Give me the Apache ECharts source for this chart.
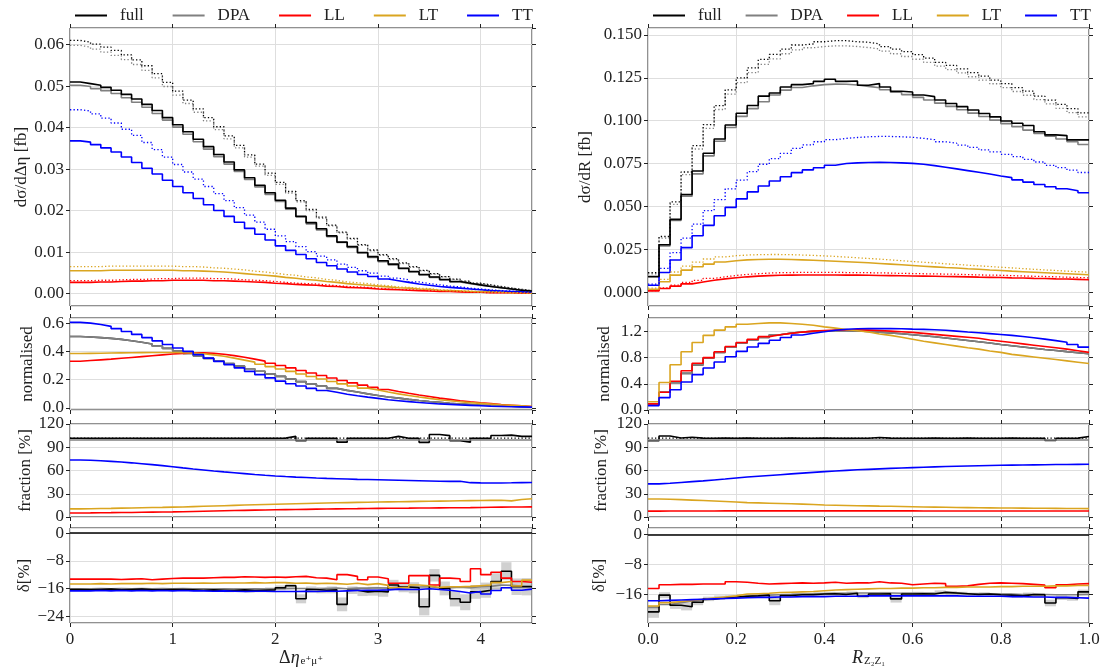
<!DOCTYPE html>
<html>
<head>
<meta charset="utf-8">
<script src="https://cdn.jsdelivr.net/npm/echarts@6/dist/echarts.min.js"></script>
<style>html,body{margin:0;background:#fff}#main{width:1107px;height:668px}</style>
</head>
<body>
<div id="main"></div>
<script>
// bin edges
var etaEdges = [0,0.1,0.2,0.3,0.4,0.5,0.6,0.7,0.8,0.9,1,1.1,1.2,1.3,1.4,1.5,1.6,1.7,1.8,1.9,2,2.1,2.2,2.3,2.4,2.5,2.6,2.7,2.8,2.9,3,3.1,3.2,3.3,3.4,3.5,3.6,3.7,3.8,3.9,4,4.1,4.2,4.3,4.4,4.5];
var rEdges = [0,0.025,0.05,0.075,0.1,0.125,0.15,0.175,0.2,0.225,0.25,0.275,0.3,0.325,0.35,0.375,0.4,0.425,0.45,0.475,0.5,0.525,0.55,0.575,0.6,0.625,0.65,0.675,0.7,0.725,0.75,0.775,0.8,0.825,0.85,0.875,0.9,0.925,0.95,0.975,1];

// ---- left column: delta eta (solid = NLO, dot = LO)
var etaFull = [.0510,.0506,.0502,.0497,.0490,.0480,.0469,.0456,.0441,.0424,.0407,.0390,.0372,.0354,.0335,.0317,.0298,.0279,.0261,.0243,.0225,.0206,.0186,.0171,.0156,.0139,.0124,.0113,.0099,.0089,.0079,.0071,.0061,.0053,.0046,.0040,.0034,.0029,.0025,.0021,.0017,.0014,.0011,.0008,.0006];
var etaDPA = [.0502,.0499,.0494,.0489,.0482,.0472,.0461,.0449,.0434,.0418,.0401,.0384,.0366,.0348,.0330,.0312,.0294,.0275,.0257,.0239,.0222,.0203,.0185,.0168,.0153,.0137,.0123,.0111,.0098,.0087,.0077,.0069,.0060,.0052,.0045,.0039,.0033,.0028,.0024,.0020,.0017,.0014,.0011,.0008,.0006];
var etaFullDot = [.0610,.0606,.0601,.0594,.0586,.0575,.0563,.0549,.0530,.0509,.0488,.0466,.0445,.0424,.0402,.0380,.0357,.0334,.0312,.0290,.0268,.0246,.0224,.0203,.0184,.0165,.0148,.0133,.0118,.0105,.0094,.0084,.0074,.0065,.0056,.0048,.0041,.0035,.0030,.0025,.0021,.0017,.0013,.0010,.0007];
var etaDPADot = [.0598,.0594,.0589,.0582,.0574,.0564,.0552,.0538,.0520,.0499,.0478,.0458,.0437,.0416,.0395,.0373,.0351,.0329,.0307,.0285,.0263,.0242,.0221,.0200,.0181,.0163,.0146,.0131,.0116,.0103,.0092,.0082,.0072,.0063,.0055,.0047,.0040,.0034,.0029,.0024,.0020,.0016,.0013,.0010,.0007];
var etaLL = [.0027,.0027,.0028,.0028,.0029,.0030,.0030,.0031,.0031,.0032,.0032,.0032,.0032,.0031,.0031,.0030,.0029,.0028,.0027,.0025,.0024,.0022,.0021,.0020,.0018,.0017,.0015,.0014,.0013,.0011,.0010,.0009,.0008,.0007,.0006,.0005,.0005,.0004,.0003,.0003,.0002,.0002,.0002,.0001,.0001];
var etaLLDot = [.0031,.0031,.0032,.0032,.0033,.0034,.0034,.0035,.0036,.0036,.0037,.0037,.0037,.0036,.0036,.0035,.0033,.0032,.0031,.0029,.0027,.0025,.0024,.0023,.0021,.0019,.0017,.0016,.0015,.0013,.0011,.0010,.0009,.0008,.0007,.0006,.0006,.0005,.0003,.0003,.0002,.0002,.0002,.0001,.0001];
var etaLT = [.0055,.0055,.0055,.0056,.0056,.0056,.0056,.0056,.0056,.0056,.0055,.0055,.0054,.0053,.0052,.0050,.0048,.0046,.0044,.0042,.0039,.0037,.0034,.0032,.0029,.0027,.0024,.0022,.0020,.0018,.0016,.0014,.0013,.0011,.0010,.0008,.0007,.0006,.0005,.0004,.0004,.0003,.0002,.0002,.0001];
var etaLTDot = [.0065,.0065,.0065,.0066,.0066,.0066,.0066,.0066,.0066,.0066,.0065,.0065,.0064,.0062,.0061,.0059,.0057,.0054,.0052,.0049,.0046,.0044,.0040,.0038,.0034,.0032,.0028,.0026,.0024,.0021,.0019,.0016,.0015,.0013,.0012,.0009,.0008,.0007,.0006,.0005,.0005,.0004,.0002,.0002,.0001];
var etaTT = [.0368,.0365,.0359,.0351,.0341,.0329,.0316,.0302,.0288,.0273,.0258,.0243,.0229,.0214,.0200,.0186,.0172,.0157,.0143,.0129,.0115,.0104,.0094,.0084,.0075,.0067,.0059,.0052,.0046,.0041,.0035,.0031,.0027,.0023,.0020,.0017,.0015,.0013,.0011,.0009,.0007,.0006,.0005,.0004,.0003];
var etaTTDot = [.0443,.0440,.0433,.0423,.0411,.0396,.0381,.0364,.0347,.0329,.0311,.0293,.0276,.0258,.0241,.0224,.0207,.0189,.0172,.0155,.0139,.0125,.0113,.0101,.0090,.0081,.0071,.0063,.0055,.0049,.0042,.0037,.0033,.0028,.0024,.0021,.0018,.0016,.0013,.0011,.0009,.0007,.0006,.0005,.0004];

var etaNormDPA = [.505,.502,.497,.492,.485,.475,.464,.452,.437,.421,.403,.386,.368,.350,.332,.314,.296,.277,.259,.240,.223,.204,.186,.169,.154,.138,.124,.112,.099,.088,.077,.069,.060,.052,.045,.039,.033,.028,.024,.020,.017,.014,.011,.008,.006];
var etaNormLL = [.330,.335,.340,.345,.351,.357,.363,.369,.375,.381,.386,.389,.389,.386,.380,.370,.358,.345,.331,.316,.300,.283,.265,.247,.229,.211,.194,.177,.161,.145,.130,.116,.103,.091,.080,.069,.060,.051,.043,.036,.030,.024,.019,.014,.010];
var etaNormLT = [.385,.386,.387,.388,.389,.390,.391,.392,.392,.392,.391,.388,.383,.375,.365,.352,.338,.324,.309,.292,.275,.258,.240,.222,.204,.187,.170,.155,.140,.126,.112,.099,.088,.077,.067,.058,.050,.043,.037,.032,.027,.022,.018,.014,.010];
var etaNormTT = [.605,.600,.590,.577,.561,.541,.520,.497,.474,.449,.424,.400,.377,.352,.329,.306,.283,.258,.235,.212,.189,.171,.155,.138,.123,.110,.097,.086,.076,.067,.058,.051,.044,.038,.033,.028,.025,.021,.018,.015,.012,.010,.008,.007,.005];

var etaFracFull = [101.6,101.5,101.7,101.5,101.6,101.7,101.5,101.6,101.5,101.5,101.4,101.5,101.6,101.4,101.5,101.6,101.4,101.5,101.6,101.5,101.8,104.0,98.4,101.5,101.4,101.5,96.6,101.5,101.5,101.6,101.5,104.0,101.5,101.5,96.3,106.5,105.0,98.4,96.6,101.5,101.5,105.2,105.6,104.0,104.0];
var etaFracFullDot = [101.9,101.8,101.8,101.9,101.8,101.8,101.7,101.8,101.8,101.7,101.8,101.8,101.7,101.8,101.8,101.7,101.8,101.8,101.7,101.8,101.8,101.7,101.8,101.9,101.8,101.8,101.7,101.8,101.9,101.8,101.7,101.8,101.8,101.9,101.8,101.7,101.8,101.9,101.8,101.8,101.7,101.8,101.9,101.8,101.8];
var etaFracTT = [73.5,73.2,72.6,71.8,70.9,69.9,68.8,67.6,66.3,64.9,63.4,62.0,60.7,59.4,58.2,57.1,56.0,54.9,53.9,53.0,52.2,51.5,50.9,50.3,49.8,49.4,49.0,48.6,48.3,48.0,47.7,47.4,47.1,46.8,46.5,46.2,46.0,46.2,44.3,44.0,43.9,43.9,44.1,44.4,44.6];
var etaFracLT = [10.5,10.7,10.9,11.1,11.4,11.6,11.9,12.2,12.4,12.7,13.0,13.4,13.8,14.2,14.6,15.0,15.4,15.8,16.2,16.5,16.8,17.1,17.4,17.7,18.0,18.3,18.6,18.9,19.1,19.3,19.5,19.7,19.9,20.1,20.3,20.5,20.7,20.9,21.1,21.3,21.5,21.7,20.8,22.5,23.5];
var etaFracLL = [5.2,5.3,5.5,5.6,5.8,5.9,6.1,6.3,6.5,6.6,6.8,7.1,7.4,7.7,8.0,8.3,8.6,8.9,9.1,9.3,9.5,9.7,9.9,10.1,10.3,10.5,10.7,10.8,11.0,11.1,11.2,11.3,11.4,11.6,11.7,11.8,11.9,12.0,12.1,12.3,12.5,12.7,12.9,13.0,13.1];

var etaDelFull = [-16.3,-16.4,-16.3,-16.2,-16.4,-16.3,-16.2,-16.4,-16.4,-16.3,-16.3,-16.4,-16.5,-16.4,-16.5,-16.6,-16.4,-16.6,-16.5,-16.4,-15.8,-15.2,-19.0,-16.3,-16.5,-16.4,-20.6,-16.5,-17.0,-16.8,-17.0,-15.0,-15.6,-15.8,-21.3,-12.2,-16.0,-19.0,-20.0,-17.0,-16.5,-14.0,-11.0,-15.5,-15.5];
var etaDelFullErr = [0.2,0.2,0.2,0.2,0.2,0.3,0.3,0.3,0.3,0.3,0.3,0.3,0.4,0.4,0.5,0.5,0.5,0.6,0.6,0.7,0.7,0.8,1.3,0.9,0.9,1.0,2.0,1.1,1.2,1.3,1.4,1.5,1.5,1.6,2.5,1.8,2.0,2.2,2.3,2.0,2.2,2.4,2.6,2.4,2.5];
var etaDelDPA = [-16.1,-16.1,-16.0,-16.1,-16.0,-16.1,-16.0,-16.1,-16.0,-16.1,-16.0,-16.1,-16.1,-16.2,-16.1,-16.2,-16.2,-16.1,-16.2,-16.1,-16.1,-16.0,-16.0,-16.3,-16.0,-15.9,-16.1,-15.9,-15.9,-15.8,-15.9,-15.6,-15.7,-15.6,-15.5,-15.8,-15.8,-15.6,-15.8,-15.5,-15.4,-15.0,-15.1,-15.3,-15.3];
var etaDelLL = [-13.3,-13.3,-13.3,-13.3,-13.4,-13.3,-13.2,-13.5,-13.3,-13.1,-13.0,-13.0,-13.0,-12.9,-12.8,-12.8,-12.6,-12.7,-12.8,-12.7,-12.8,-12.6,-12.5,-12.9,-13.0,-13.5,-12.0,-12.5,-13.5,-12.7,-13.2,-14.5,-14.5,-12.3,-12.3,-15.0,-13.0,-13.2,-14.0,-10.3,-12.0,-11.3,-13.0,-14.0,-14.2];
var etaDelLT = [-14.7,-14.7,-14.6,-14.7,-14.6,-14.6,-14.6,-14.5,-14.6,-14.5,-14.5,-14.5,-14.4,-14.5,-14.4,-14.4,-14.4,-14.3,-14.4,-14.3,-14.3,-14.5,-14.4,-14.6,-14.5,-14.6,-14.8,-14.5,-14.9,-14.6,-15.1,-15.8,-15.7,-15.0,-15.2,-15.7,-15.5,-15.5,-15.4,-15.2,-15.0,-14.3,-14.0,-15.3,-13.6];
var etaDelTT = [-16.7,-16.7,-16.6,-16.7,-16.6,-16.7,-16.6,-16.7,-16.6,-16.7,-16.6,-16.7,-16.7,-16.8,-16.7,-16.8,-16.9,-16.8,-16.8,-16.9,-16.9,-16.9,-16.8,-16.9,-16.8,-16.8,-16.7,-16.6,-16.5,-16.5,-16.4,-16.2,-16.3,-16.3,-16.1,-16.3,-16.5,-16.9,-17.3,-16.9,-17.6,-16.6,-15.8,-16.5,-16.2];

// ---- right column: R_Z2Z1
var rFull = [.0092,.0277,.0425,.0570,.0707,.0810,.0893,.0975,.1043,.1088,.1143,.1161,.1196,.1210,.1216,.1229,.1241,.1229,.1231,.1206,.1216,.1196,.1171,.1167,.1150,.1140,.1120,.1100,.1082,.1062,.1042,.1022,.0998,.0985,.0972,.0935,.0917,.0913,.0888,.0888];
var rDPA = [.0090,.0270,.0418,.0560,.0690,.0795,.0880,.0960,.1025,.1070,.1110,.1150,.1178,.1193,.1203,.1210,.1213,.1212,.1208,.1200,.1192,.1180,.1166,.1152,.1136,.1120,.1102,.1083,.1064,.1044,.1024,.1003,.0983,.0965,.0945,.0925,.0910,.0893,.0877,.0861];
var rFullDot = [.0114,.0325,.0527,.0701,.0854,.0977,.1088,.1180,.1249,.1308,.1357,.1386,.1417,.1441,.1447,.1460,.1466,.1466,.1460,.1457,.1447,.1431,.1417,.1402,.1385,.1365,.1340,.1322,.1302,.1280,.1260,.1236,.1216,.1192,.1172,.1143,.1120,.1095,.1070,.1045];
var rDPADot = [.0108,.0315,.0512,.0685,.0835,.0955,.1065,.1155,.1222,.1280,.1328,.1360,.1390,.1412,.1425,.1432,.1436,.1436,.1432,.1426,.1418,.1405,.1390,.1374,.1358,.1340,.1318,.1298,.1278,.1256,.1236,.1215,.1193,.1170,.1148,.1123,.1098,.1072,.1047,.1022];
var rLL = [.0008,.0022,.0036,.0049,.0060,.0070,.0078,.0085,.0090,.0094,.0097,.0099,.0100,.0101,.0101,.0101,.0101,.0100,.0100,.0099,.0098,.0097,.0096,.0095,.0094,.0093,.0092,.0091,.0090,.0088,.0087,.0086,.0084,.0083,.0081,.0080,.0078,.0077,.0075,.0073];
var rLLDot = [.0010,.0026,.0042,.0057,.0069,.0081,.0090,.0098,.0104,.0108,.0112,.0114,.0115,.0116,.0116,.0116,.0116,.0115,.0115,.0114,.0113,.0112,.0110,.0109,.0108,.0107,.0106,.0105,.0103,.0101,.0100,.0099,.0097,.0095,.0093,.0092,.0090,.0088,.0086,.0084];
var rLT = [.0018,.0061,.0100,.0129,.0149,.0164,.0176,.0184,.0189,.0191,.0192,.0192,.0191,.0189,.0187,.0184,.0181,.0178,.0175,.0172,.0168,.0164,.0160,.0156,.0152,.0148,.0144,.0141,.0137,.0134,.0130,.0127,.0123,.0120,.0117,.0114,.0111,.0108,.0105,.0102];
var rLTDot = [.0024,.0075,.0118,.0152,.0176,.0194,.0206,.0213,.0217,.0219,.0220,.0220,.0219,.0217,.0215,.0212,.0209,.0205,.0201,.0197,.0193,.0189,.0184,.0179,.0175,.0171,.0166,.0162,.0158,.0154,.0150,.0146,.0142,.0138,.0134,.0130,.0127,.0123,.0120,.0117];
var rTT = [.0041,.0115,.0188,.0260,.0329,.0390,.0446,.0495,.0544,.0585,.0619,.0648,.0673,.0697,.0713,.0726,.0740,.0750,.0754,.0756,.0757,.0756,.0754,.0751,.0746,.0738,.0729,.0719,.0709,.0699,.0689,.0678,.0668,.0655,.0642,.0628,.0615,.0603,.0592,.0580];
var rTTDot = [.0047,.0139,.0231,.0315,.0397,.0476,.0540,.0603,.0654,.0703,.0746,.0779,.0809,.0838,.0859,.0877,.0889,.0897,.0902,.0906,.0908,.0908,.0906,.0903,.0897,.0889,.0877,.0869,.0857,.0844,.0830,.0818,.0804,.0791,.0775,.0759,.0740,.0726,.0712,.0698];

var rNormDPA = [.090,.270,.417,.559,.689,.793,.878,.958,1.023,1.068,1.108,1.148,1.176,1.191,1.201,1.208,1.211,1.210,1.206,1.198,1.190,1.178,1.164,1.150,1.134,1.118,1.100,1.081,1.062,1.042,1.022,1.001,.981,.963,.943,.923,.908,.891,.875,.859];
var rNormLL = [.093,.270,.440,.600,.715,.800,.890,.970,1.030,1.080,1.120,1.150,1.170,1.190,1.205,1.215,1.220,1.225,1.225,1.220,1.215,1.205,1.195,1.185,1.170,1.155,1.140,1.125,1.110,1.095,1.070,1.050,1.030,1.010,.990,.970,.950,.930,.905,.880];
var rNormLT = [.125,.420,.690,.890,1.030,1.140,1.220,1.270,1.310,1.320,1.330,1.330,1.320,1.310,1.295,1.270,1.250,1.230,1.210,1.190,1.160,1.140,1.110,1.080,1.050,1.025,1.000,.975,.950,.930,.900,.880,.850,.830,.810,.790,.770,.750,.730,.710];
var rNormTT = [.067,.189,.309,.428,.541,.641,.734,.814,.895,.962,1.018,1.066,1.107,1.146,1.173,1.194,1.217,1.234,1.240,1.243,1.245,1.243,1.240,1.235,1.232,1.226,1.218,1.205,1.192,1.180,1.167,1.154,1.140,1.122,1.103,1.083,1.060,1.035,1.000,.960];

var rFracFull = [98.4,104.5,102.0,103.0,101.8,101.6,101.8,101.7,101.8,101.6,101.7,101.6,101.8,101.7,101.6,101.8,101.7,101.5,101.6,101.7,102.5,101.8,101.6,101.7,101.6,101.8,101.7,101.6,101.8,101.6,101.7,101.6,101.8,101.7,101.6,101.5,98.8,101.6,101.8,103.8];
var rFracFullDot = [101.7,101.8,101.7,101.8,101.7,101.7,101.8,101.7,101.7,101.8,101.7,101.8,101.7,101.8,101.7,101.7,101.8,101.7,101.7,101.8,101.7,101.8,101.7,101.8,101.7,101.7,101.8,101.7,101.7,101.8,101.7,101.8,101.7,101.8,101.7,101.7,101.8,101.7,101.7,101.8];
var rFracTT = [42.7,43.6,44.6,45.6,46.6,47.8,49.0,50.3,51.6,52.6,53.6,54.6,55.6,56.6,57.6,58.5,59.4,60.2,60.9,61.5,62.1,62.7,63.2,63.7,64.2,64.7,65.1,65.5,65.8,66.1,66.4,66.7,66.9,67.1,67.3,67.5,67.7,67.8,67.9,68.0];
var rFracLT = [23.3,22.9,22.4,21.8,21.2,20.6,20.0,19.4,18.6,18.2,17.8,17.4,17.0,16.6,16.2,15.5,15.2,14.9,14.6,14.3,14.0,13.8,13.5,13.2,12.9,12.7,12.5,12.3,12.1,11.9,11.8,11.7,11.6,11.5,11.3,11.2,11.1,11.0,10.9,10.8];
var rFracLL = [7.6,7.7,7.7,7.8,7.8,7.8,7.9,7.9,7.9,7.9,7.9,7.9,7.9,7.9,7.9,7.9,7.9,7.9,7.9,7.9,7.9,7.9,7.9,7.9,7.8,7.8,7.8,7.8,7.8,7.8,7.8,7.8,7.8,7.8,7.8,7.8,7.8,7.8,7.8,7.8];

var rDelFull = [-20.8,-16.3,-19.0,-19.4,-18.2,-17.3,-17.0,-16.8,-16.6,-16.5,-16.3,-17.8,-16.4,-16.2,-16.2,-16.0,-15.9,-16.1,-15.8,-16.6,-16.0,-15.9,-17.3,-16.0,-15.9,-16.0,-15.5,-15.7,-15.9,-16.1,-16.0,-16.2,-16.3,-16.5,-16.1,-16.2,-18.4,-17.0,-17.2,-15.4];
var rDelFullErr = [1.6,0.8,1.0,1.0,0.8,0.6,0.6,0.5,0.5,0.5,0.5,1.2,0.5,0.5,0.5,0.5,0.5,0.5,0.5,0.5,0.5,0.5,1.0,0.5,0.5,0.5,0.5,0.5,0.5,0.5,0.5,0.5,0.5,0.5,0.5,0.5,0.9,0.6,0.6,0.6];
var rDelDPA = [-19.6,-18.8,-18.3,-17.9,-17.6,-17.3,-17.0,-16.8,-16.6,-16.4,-16.3,-16.2,-16.1,-16.0,-15.9,-15.9,-15.8,-15.8,-15.7,-15.7,-15.7,-15.7,-15.8,-15.8,-15.8,-15.8,-15.8,-15.8,-15.9,-15.9,-15.9,-16.0,-16.0,-16.1,-16.1,-16.1,-16.2,-16.2,-16.2,-16.1];
var rDelLL = [-14.5,-13.5,-13.4,-13.4,-13.3,-13.3,-13.3,-12.7,-12.8,-13.1,-13.3,-13.2,-13.1,-13.0,-13.1,-13.0,-12.8,-13.1,-13.0,-13.0,-12.7,-13.0,-13.1,-13.5,-13.3,-13.1,-13.2,-13.9,-13.8,-13.4,-13.1,-13.0,-13.1,-13.2,-13.4,-13.6,-14.3,-13.5,-13.3,-13.2];
var rDelLT = [-19.2,-18.3,-18.0,-17.7,-17.4,-17.1,-16.8,-16.5,-16.0,-15.9,-15.8,-15.6,-15.5,-15.4,-15.3,-15.1,-14.9,-14.8,-14.7,-14.6,-14.5,-14.5,-14.4,-14.4,-14.3,-14.3,-14.2,-14.2,-14.1,-14.1,-14.1,-14.0,-14.0,-13.9,-13.9,-13.9,-13.8,-13.8,-13.7,-13.7];
var rDelTT = [-17.8,-17.7,-17.6,-17.5,-17.4,-17.3,-17.2,-17.1,-17.0,-16.9,-16.9,-16.8,-16.8,-16.7,-16.7,-16.7,-16.6,-16.6,-16.6,-16.5,-16.5,-16.5,-16.5,-16.5,-16.5,-16.5,-16.5,-16.5,-16.6,-16.6,-16.6,-16.6,-16.7,-16.7,-16.8,-16.8,-16.9,-16.9,-17.0,-17.1];

var fracRef = 100;  // DPA / DPA
var deltaRef = 0;

var legendNames = ['full', 'DPA', 'LL', 'LT', 'TT'];
var cFull = '#000000', cDPA = '#808080', cLL = '#ff0000', cLT = '#daa520', cTT = '#0000ff';

var FONT = '"Liberation Serif", "DejaVu Serif", serif';
var TXT = '#222';

// layout
var colBox = [{left: 70, width: 462}, {left: 648, width: 441}];
var rowBox = [{top: 28, height: 278}, {top: 318, height: 92}, {top: 424, height: 93}, {top: 528, height: 95}];
var xRange = [[0, 4.5, 1], [0, 1, 0.2]];
var xDigits = [0, 1];
var yRange = [
  [[-0.003, 0.064, 0.01], [-0.015, 0.636, 0.2], [0, 120, 30], [-26, 1.5, 8]],
  [[-0.008, 0.154, 0.025], [0, 1.405, 0.4], [0, 120, 30], [-23.8, 1.8, 8]]
];
var yDigits = [[2, 1, 0, 0], [3, 1, 0, 0]];
var yNames = [['dσ/dΔη [fb]', 'normalised', 'fraction [%]', 'δ[%]'], ['dσ/dR [fb]', 'normalised', 'fraction [%]', 'δ[%]']];
var yNameGap = [[40, 34, 36, 33], [54, 35, 38, 40]];
var xNames = ['{d|Δ}{i|η}{s|e⁺μ⁺}', '{i|R}{s|Z₂Z₁}'];

function onGrid(v, step) {
  var q = v / step;
  return Math.abs(q - Math.round(q)) < 1e-6;
}
function fmt(v, digits) {
  var s = Math.abs(v).toFixed(digits);
  return (v < -1e-9 ? '\u2212' : '') + s;
}

var grids = [], xAxes = [], yAxes = [], xTop = [], yRight = [];
for (var c = 0; c < 2; c++) {
  for (var r = 0; r < 4; r++) {
    var g = c * 4 + r;
    grids.push({
      left: colBox[c].left, width: colBox[c].width, top: rowBox[r].top, height: rowBox[r].height,
      show: true, borderColor: '#222', borderWidth: 1, outerBoundsMode: 'none'
    });
    var xr = xRange[c], yr = yRange[c][r];
    (function (c, r, xr, yr) {
      xAxes.push({
        type: 'value', gridIndex: g, min: xr[0], max: xr[1], minInterval: xr[2], maxInterval: xr[2],
        axisLine: {show: false, onZero: false},
        axisTick: {show: true, length: 4, lineStyle: {color: '#222'}},
        axisLabel: {
          show: r === 3, showMinLabel: onGrid(xr[0], xr[2]), showMaxLabel: onGrid(xr[1], xr[2]),
          fontFamily: FONT, fontSize: 17, color: TXT, margin: 8,
          formatter: function (v) { return fmt(v, xDigits[c]); }
        },
        splitLine: {show: true, lineStyle: {color: '#dedede', width: 1}},
        name: r === 3 ? xNames[c] : '', nameLocation: 'middle', nameGap: 19,
        nameTextStyle: {
          rich: {
            d: {fontFamily: FONT, fontSize: 18, color: TXT},
            i: {fontFamily: FONT, fontSize: 18, fontStyle: 'italic', color: TXT},
            s: {fontFamily: FONT, fontSize: 11, color: TXT, padding: [7, 0, 0, 1]}
          }
        }
      });
      xTop.push({
        type: 'value', gridIndex: g, position: 'top', min: xr[0], max: xr[1], minInterval: xr[2], maxInterval: xr[2],
        axisLine: {show: false, onZero: false}, axisLabel: {show: false}, splitLine: {show: false},
        axisTick: {show: true, length: 4, lineStyle: {color: '#222'}}
      });
      yAxes.push({
        type: 'value', gridIndex: g, min: yr[0], max: yr[1], minInterval: yr[2], maxInterval: yr[2],
        axisLine: {show: false, onZero: false},
        axisTick: {show: true, length: 4, lineStyle: {color: '#222'}},
        axisLabel: {
          showMinLabel: onGrid(yr[0], yr[2]), showMaxLabel: onGrid(yr[1], yr[2]),
          fontFamily: FONT, fontSize: 17, color: TXT, margin: 6,
          formatter: function (v) { return fmt(v, yDigits[c][r]); }
        },
        splitLine: {show: true, lineStyle: {color: '#dedede', width: 1}},
        name: yNames[c][r], nameLocation: 'middle', nameRotate: 90, nameGap: yNameGap[c][r],
        nameTextStyle: {fontFamily: FONT, fontSize: 17, color: TXT}
      });
      yRight.push({
        type: 'value', gridIndex: g, position: 'right', min: yr[0], max: yr[1], minInterval: yr[2], maxInterval: yr[2],
        axisLine: {show: false, onZero: false}, axisLabel: {show: false}, splitLine: {show: false},
        axisTick: {show: true, length: 4, lineStyle: {color: '#222'}}
      });
    })(c, r, xr, yr);
  }
}

function stepPts(edges, vals) {
  var pts = [];
  for (var i = 0; i < vals.length; i++) pts.push([edges[i], vals[i]]);
  pts.push([edges[vals.length], vals[vals.length - 1]]);
  return pts;
}
function line(g, edges, vals, name, color, dotted, z) {
  return {
    type: 'line', name: name, xAxisIndex: g, yAxisIndex: g, data: stepPts(edges, vals),
    step: 'end', symbol: 'none', showSymbol: false, silent: true, color: color, z: z || 3,
    itemStyle: {color: color},
    lineStyle: {color: color, width: dotted ? 1.3 : 1.6, type: dotted ? [1.3, 2.2] : 'solid'}
  };
}
function band(g, edges, vals, errs, color) {
  var d = vals.map(function (v, i) { return [edges[i], edges[i + 1], v - errs[i], v + errs[i]]; });
  return {
    type: 'custom', xAxisIndex: g, yAxisIndex: g, data: d, silent: true, z: 1, clip: true,
    encode: {x: [0, 1], y: [2, 3]},
    renderItem: function (params, api) {
      var p0 = api.coord([api.value(0), api.value(3)]);
      var p1 = api.coord([api.value(1), api.value(2)]);
      return {type: 'rect', shape: {x: p0[0], y: p0[1], width: p1[0] - p0[0], height: p1[1] - p0[1]}, style: {fill: color}};
    }
  };
}
function refLine(g, edges, name, color, value) {
  var s = line(g, edges, [], name, color, false, 2);
  s.data = [];
  s.markLine = {silent: true, symbol: 'none', label: {show: false}, animation: false,
    lineStyle: {color: color, type: 'solid', width: 1.6}, data: [{yAxis: value}]};
  return s;
}

var series = [];
function column(c, E, d) {
  var g0 = c * 4;
  // cross sections
  series.push(line(g0, E, d.full, 'full', cFull, false, 4));
  series.push(line(g0, E, d.dpa, 'DPA', cDPA, false, 3));
  series.push(line(g0, E, d.ll, 'LL', cLL, false, 3));
  series.push(line(g0, E, d.lt, 'LT', cLT, false, 3));
  series.push(line(g0, E, d.tt, 'TT', cTT, false, 3));
  series.push(line(g0, E, d.fullDot, 'full', cFull, true, 4));
  series.push(line(g0, E, d.dpaDot, 'DPA', cDPA, true, 3));
  series.push(line(g0, E, d.llDot, 'LL', cLL, true, 3));
  series.push(line(g0, E, d.ltDot, 'LT', cLT, true, 3));
  series.push(line(g0, E, d.ttDot, 'TT', cTT, true, 3));
  // normalised shapes
  series.push(line(g0 + 1, E, d.normDPA, 'full', '#333333', false, 2));
  series.push(line(g0 + 1, E, d.normDPA, 'DPA', cDPA, false, 3));
  series.push(line(g0 + 1, E, d.normLL, 'LL', cLL, false, 3));
  series.push(line(g0 + 1, E, d.normLT, 'LT', cLT, false, 3));
  series.push(line(g0 + 1, E, d.normTT, 'TT', cTT, false, 4));
  // fractions of DPA
  series.push(refLine(g0 + 2, E, 'DPA', cDPA, fracRef));
  series.push(line(g0 + 2, E, d.fracFull, 'full', cFull, false, 4));
  series.push(line(g0 + 2, E, d.fracFullDot, 'full', cFull, true, 4));
  series.push(line(g0 + 2, E, d.fracTT, 'TT', cTT, false, 3));
  series.push(line(g0 + 2, E, d.fracLT, 'LT', cLT, false, 3));
  series.push(line(g0 + 2, E, d.fracLL, 'LL', cLL, false, 3));
  // relative corrections
  series.push(band(g0 + 3, E, d.delFull, d.delFullErr, 'rgba(150,150,150,0.45)'));
  series.push(refLine(g0 + 3, E, 'full', cFull, deltaRef));
  series.push(line(g0 + 3, E, d.delDPA, 'DPA', cDPA, false, 3));
  series.push(line(g0 + 3, E, d.delFull, 'full', cFull, false, 3));
  series.push(line(g0 + 3, E, d.delLL, 'LL', cLL, false, 4));
  series.push(line(g0 + 3, E, d.delLT, 'LT', cLT, false, 4));
  series.push(line(g0 + 3, E, d.delTT, 'TT', cTT, false, 4));
}
column(0, etaEdges, {
  full: etaFull, dpa: etaDPA, ll: etaLL, lt: etaLT, tt: etaTT,
  fullDot: etaFullDot, dpaDot: etaDPADot, llDot: etaLLDot, ltDot: etaLTDot, ttDot: etaTTDot,
  normDPA: etaNormDPA, normLL: etaNormLL, normLT: etaNormLT, normTT: etaNormTT,
  fracFull: etaFracFull, fracFullDot: etaFracFullDot, fracTT: etaFracTT, fracLT: etaFracLT, fracLL: etaFracLL,
  delFull: etaDelFull, delFullErr: etaDelFullErr, delDPA: etaDelDPA, delLL: etaDelLL, delLT: etaDelLT, delTT: etaDelTT
});
column(1, rEdges, {
  full: rFull, dpa: rDPA, ll: rLL, lt: rLT, tt: rTT,
  fullDot: rFullDot, dpaDot: rDPADot, llDot: rLLDot, ltDot: rLTDot, ttDot: rTTDot,
  normDPA: rNormDPA, normLL: rNormLL, normLT: rNormLT, normTT: rNormTT,
  fracFull: rFracFull, fracFullDot: rFracFullDot, fracTT: rFracTT, fracLT: rFracLT, fracLL: rFracLL,
  delFull: rDelFull, delFullErr: rDelFullErr, delDPA: rDelDPA, delLL: rDelLL, delLT: rDelLT, delTT: rDelTT
});

function legendAt(left, gap) {
  return {
    data: legendNames, left: left, top: 2, itemGap: gap, itemWidth: 32, itemHeight: 2, icon: 'rect',
    selectedMode: false, textStyle: {fontFamily: FONT, fontSize: 17, color: TXT, padding: [0, 0, 0, 8]}
  };
}

var chart = echarts.init(document.getElementById('main'));
chart.setOption({
  animation: false,
  backgroundColor: '#ffffff',
  textStyle: {fontFamily: FONT},
  legend: [legendAt(70, 29), legendAt(648, 24)],
  grid: grids,
  xAxis: xAxes.concat(xTop),
  yAxis: yAxes.concat(yRight),
  series: series
});
</script>
</body>
</html>
